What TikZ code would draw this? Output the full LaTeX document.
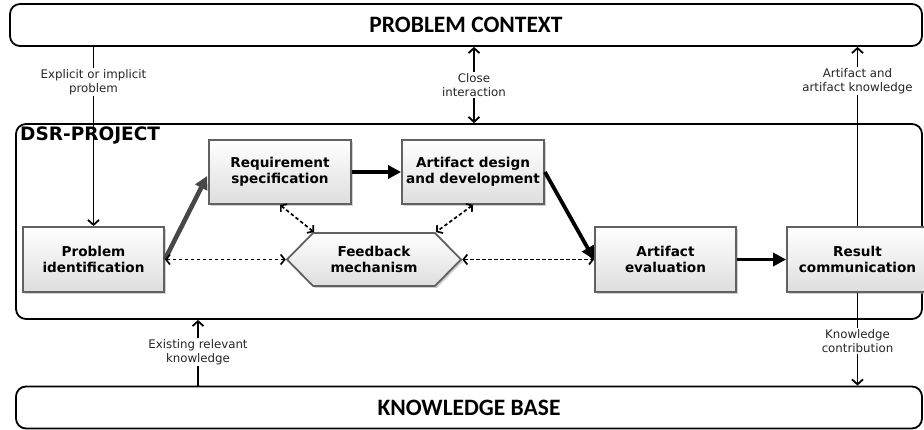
\documentclass[tikz,border=0pt]{standalone}
\usepackage{fontspec}
\setmainfont{DejaVu Sans}
\newfontfamily\titlefont{Carlito}
\usetikzlibrary{arrows.meta,calc,shadows,shapes.symbols}

\begin{document}
\begin{tikzpicture}[x=1pt,y=-1pt,
  frame/.style={draw=black, line width=1.8pt, rounded corners=10pt, fill=white},
  titletext/.style={font=\titlefont\bfseries\fontsize{23.5}{26}\selectfont},
  stepbox/.style={draw=black!62, line width=1.8pt, top color=white, bottom color=black!13,
    minimum width=141pt, minimum height=65pt, align=center, inner sep=2pt,
    font=\bfseries\fontsize{13.6}{16}\selectfont,
    drop shadow={shadow xshift=2pt, shadow yshift=-2pt, fill=black!30, opacity=0.6}},
  feedbackbox/.style={stepbox, signal, signal to=west and east, signal pointer angle=91,
    minimum width=174pt, minimum height=53pt},
  flow/.style={line width=3.8pt, -{Triangle[length=13pt,width=13pt]}},
  flowgray/.style={flow, draw=black!72, line width=4.6pt},
  feedback/.style={line width=1.7pt, dash pattern=on 3.5pt off 2.5pt,
    {Straight Barb[length=4pt,width=10pt]}-{Straight Barb[length=4pt,width=10pt]}},
  link/.style={line width=1.8pt, -{Straight Barb[length=5pt,width=11pt]}},
  lbl/.style={fill=white, inner sep=1.5pt, align=center, text=black!85,
    font=\fontsize{11.8}{14}\selectfont}
]
\useasboundingbox (0,0) rectangle (924,430);

% outer frames
\node[frame, minimum width=912pt, minimum height=42pt, titletext] (pc) at (466,25) {PROBLEM CONTEXT};
\node[frame, minimum width=906pt, minimum height=195pt] (dsr) at (469,221.5) {};
\node[anchor=north west, inner sep=0pt, font=\bfseries\fontsize{18.5}{20}\selectfont] (dsrt) at (20,127) {DSR-PROJECT};
\node[frame, minimum width=906pt, minimum height=42pt, titletext] (kb) at (469,407.5) {KNOWLEDGE BASE};

% process steps
\node[stepbox] (pi) at (93.5,259.5) {Problem\\identification};
\node[stepbox, minimum width=142pt, minimum height=64pt] (rs) at (280,172) {Requirement\\specification};
\node[stepbox, minimum width=142pt, minimum height=64pt] (ad) at (473,172) {Artifact design\\and development};
\node[stepbox] (ae) at (665.5,259.5) {Artifact\\evaluation};
\node[stepbox] (rc) at (857.5,259.5) {Result\\communication};
\node[feedbackbox] (fb) at (374,259.5) {Feedback\\mechanism};

% main flow
\draw[flowgray] (pi.east) -- ($(rs.west)+(-1,4)$);
\draw[flow] (rs.east) -- (ad.west);
\draw[flow] (ad.east) -- (ae.west);
\draw[flow] (ae.east) -- (rc.west);

% feedback loops
\draw[feedback] (pi.east) -- (fb.west);
\draw[feedback] (fb.east) -- (ae.west);
\draw[feedback] (rs.south) -- ($(fb.north)+(-60,0)$);
\draw[feedback] (ad.south) -- ($(fb.north)+(62,0)$);

% links to the environment
\coordinate (ci) at (474,0);
\coordinate (ek) at (198,0);
\draw[link] (pc.south -| pi) -- (pi.north);
\draw[link, {Straight Barb[length=5pt,width=11pt]}-{Straight Barb[length=5pt,width=11pt]}] (pc.south -| ci) -- (dsr.north -| ci);
\draw[link] (rc.north) -- (pc.south -| rc);
\draw[link] (kb.north -| ek) -- (dsr.south -| ek);
\draw[link] (rc.south) -- (kb.north -| rc);

% link labels
\node[lbl] (l1) at (93.5,82) {Explicit or implicit\\problem};
\node[lbl] (l2) at (474,85) {Close\\interaction};
\node[lbl] (l3) at (857.5,81) {Artifact and\\artifact knowledge};
\node[lbl] (l4) at (198,352) {Existing relevant\\knowledge};
\node[lbl] (l5) at (857.5,341) {Knowledge\\contribution};
\end{tikzpicture}
\end{document}
